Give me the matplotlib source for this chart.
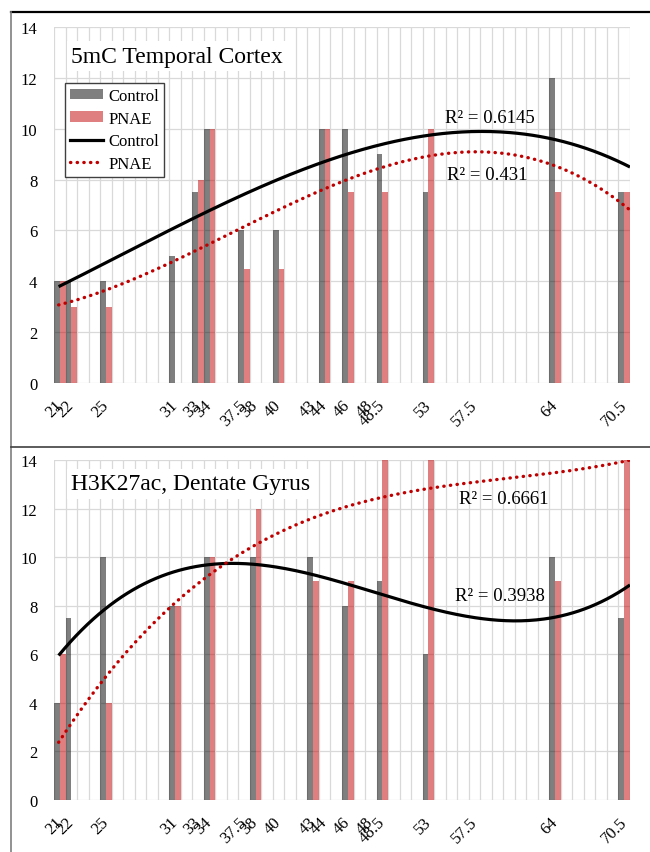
"""
two stacked bar charts, control vs PNAE by age, each with a cubic trend line

top panel is 5mC in the temporal cortex, bottom is H3K27ac in the dentate gyrus
the picture is saved as out.png
"""

import matplotlib

matplotlib.use("Agg")
import matplotlib.pyplot as plt
import numpy as np
from matplotlib.lines import Line2D
from matplotlib.patches import Patch
from matplotlib.ticker import MultipleLocator

nan = np.nan

# ages as printed under the bars, and the whole day excel put each one on
age_labels = ["21", "22", "25", "31", "33", "34", "37.5", "38", "40", "43",
              "44", "46", "48", "48.5", "53", "57.5", "64", "70.5"]
age_days = [21, 22, 25, 31, 33, 34, 37, 38, 40, 43, 44, 46, 48, 49, 53, 57, 64, 70]

# 5mC temporal cortex
ctx_control = [4, 4, 4, 5, 7.5, 10, 6, nan, 6, nan, 10, 10, nan, 9, 7.5, nan, 12, 7.5]
ctx_pnae = [4, 3, 3, 0, 8, 10, 4.5, nan, 4.5, nan, 10, 7.5, nan, 7.5, 10, nan, 7.5, 7.5]

# H3K27ac dentate gyrus, three pnae bars run past the top of the axis
dg_control = [4, 7.5, 10, 8, nan, 10, nan, 10, nan, 10, nan, 8, nan, 9, 6, nan, 10, 7.5]
dg_pnae = [6, 0, 4, 8, nan, 10, nan, 12, nan, 9, nan, 9, nan, 16, 16, nan, 9, 16]

titles = ["5mC Temporal Cortex", "H3K27ac, Dentate Gyrus"]
r2_control = ["R² = 0.6145", "R² = 0.3938"]
r2_pnae = ["R² = 0.431", "R² = 0.6661"]

red = "#c00000"
grid_grey = "#d9d9d9"

plt.rcParams["font.family"] = ["Liberation Serif", "DejaVu Serif"]


def cubic_trend(x, y):
    # excel style polynomial trend line, order 3, blanks left out
    keep = ~np.isnan(y)
    coef = np.polyfit(x[keep], y[keep], 3)
    xs = np.linspace(21.4, 71, 300)
    return xs, np.polyval(coef, xs)


def draw_panel(ax, control, pnae, title, r2_texts, r2_spots, legend=False):
    days = np.array(age_days, dtype=float)
    control = np.array(control, dtype=float)
    pnae = np.array(pnae, dtype=float)

    # control on the left half of each day, pnae on the right half
    ax.bar(days, control, width=0.5, align="edge", color="black", alpha=0.5,
           linewidth=0, zorder=2)
    ax.bar(days + 0.5, pnae, width=0.5, align="edge", color=red, alpha=0.5,
           linewidth=0, zorder=2)

    # trend lines go through the middle of each pair of bars
    centres = days + 0.5
    xs, ys = cubic_trend(centres, control)
    ax.plot(xs, ys, color="black", lw=2.3, zorder=3, solid_capstyle="butt")
    xs, ys = cubic_trend(centres, pnae)
    ax.plot(xs, ys, color=red, lw=2.4, ls=(0, (0.1, 1.9)), dash_capstyle="round",
            zorder=3)

    ax.text(*r2_spots[0], r2_texts[0], fontsize=13.5, ha="center", va="center", zorder=4)
    ax.text(*r2_spots[1], r2_texts[1], fontsize=13.5, ha="center", va="center", zorder=4)

    ax.set_xlim(21, 71)
    ax.set_ylim(0, 14)
    ax.set_yticks(np.arange(0, 15, 2))
    ax.xaxis.set_minor_locator(MultipleLocator(1))
    ax.set_xticks(centres)
    ax.set_xticklabels(age_labels, rotation=45, ha="right", va="center",
                       rotation_mode="anchor")
    ax.tick_params(axis="both", which="both", length=0, labelsize=12)
    ax.tick_params(axis="y", pad=12)
    ax.tick_params(axis="x", pad=14)

    # light grid, one line per day and one every 2 up the side
    ax.grid(which="minor", axis="x", color=grid_grey, lw=0.9)
    ax.grid(which="major", axis="y", color=grid_grey, lw=0.9)
    ax.grid(which="major", axis="x", visible=False)
    ax.set_axisbelow(True)
    for side in ax.spines.values():
        side.set_visible(False)

    ax.text(0.03, 0.918 if legend else 0.93, title, transform=ax.transAxes,
            fontsize=17, ha="left", va="center", zorder=5,
            bbox=dict(facecolor="white", edgecolor="none", pad=3))

    if legend:
        handles = [
            Patch(facecolor="black", alpha=0.5, linewidth=0),
            Patch(facecolor=red, alpha=0.5, linewidth=0),
            Line2D([], [], color="black", lw=2.3),
            Line2D([], [], color=red, lw=2.4, ls=(0, (0.1, 1.9)), dash_capstyle="round"),
        ]
        leg = ax.legend(handles, ["Control", "PNAE", "Control", "PNAE"],
                        loc="upper left", bbox_to_anchor=(0.019, 0.843),
                        borderaxespad=0, fontsize=12, fancybox=False,
                        framealpha=1, edgecolor="#404040", handlelength=2.0,
                        handleheight=0.6, handletextpad=0.3, labelspacing=0.4,
                        borderpad=0.3)
        leg.get_frame().set_linewidth(1)
        leg.set_zorder(6)


def main():
    fig = plt.figure(figsize=(6.5, 8.53), dpi=100)
    ax_top = fig.add_axes([54 / 650, 1 - 384 / 853, 576 / 650, 356 / 853])
    ax_bot = fig.add_axes([54 / 650, 1 - 801 / 853, 576 / 650, 340 / 853])

    draw_panel(ax_top, ctx_control, ctx_pnae, titles[0],
               [r2_control[0], r2_pnae[0]], [(58.8, 10.46), (58.6, 8.18)],
               legend=True)
    draw_panel(ax_bot, dg_control, dg_pnae, titles[1],
               [r2_pnae[1], r2_control[1]], [(60.0, 12.43), (59.7, 8.44)])

    # frame lines round the two panels
    fig.add_artist(Line2D([11 / 650, 1], [1 - 13 / 853] * 2, color="black", lw=1.6))
    fig.add_artist(Line2D([11 / 650] * 2, [0, 1 - 13 / 853], color="#7f7f7f", lw=1.2))
    fig.add_artist(Line2D([11 / 650, 1], [1 - 448 / 853] * 2, color="#404040", lw=1.2))

    fig.savefig("out.png", dpi=100)


if __name__ == "__main__":
    main()
